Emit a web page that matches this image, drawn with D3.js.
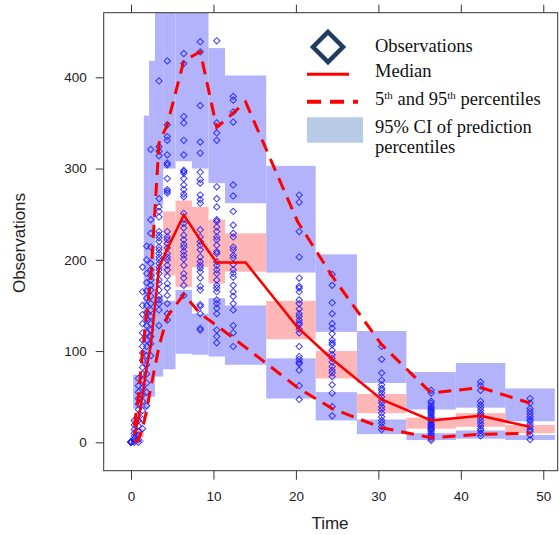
<!DOCTYPE html>
<html><head><meta charset="utf-8">
<script src="https://cdn.jsdelivr.net/npm/d3@7"></script>
<style>body{margin:0;background:#fff}</style>
</head><body><svg id="c" width="559" height="535"></svg>
<script>
// ---------- data ----------
const binEdges = [0.26, 1.55, 2.2, 2.9, 3.9, 5.4, 7.4, 9.4, 11.4, 16.4, 22.4, 27.4, 33.4, 39.4, 45.4, 51.4];
const p95Hi = [74, 358, 418, 500, 500, 500, 500, 432, 402, 303, 206, 122, 77, 87, 59];
const p95Lo = [37, 140, 160, 260, 300, 308, 300, 284, 262, 186, 121, 65, 36, 38, 23];
const medHi = [15, 100, 130, 160, 253, 265, 258, 244, 229, 155, 100, 53, 27, 32, 19];
const medLo = [5, 70, 95, 130, 183, 170, 192, 174, 187, 113, 70, 32, 15, 17, 10];
const p5Hi  = [3, 150, 170, 160, 155, 167, 141, 158, 150, 92, 55, 25, 10, 13, 8];
const p5Lo  = [0, 37, 50, 72, 80, 97, 96, 94, 85, 48, 24, 9, 2.5, 4, 2.5];

const lineTimes = [0.4, 0.9, 1.4, 1.9, 2.4, 3.4, 4.4, 6.4, 8.4, 10.4, 13.9, 20.2, 24.4, 30.4, 36.4, 42.4, 48.4];
const medLine = [8, 25, 52, 82, 106, 192, 212, 249, 222, 197, 197, 126, 91, 47, 24, 29, 17];
const p95Line = [18, 50, 100, 140, 180, 328, 348, 418, 428, 345, 373, 242, 182, 107, 54, 60, 43];
const p5Line  = [0, 3, 15, 35, 60, 105, 138, 162, 141, 128, 104, 60, 37, 16, 5, 8.8, 10];

const obsTimes = [0, 0.4, 0.9, 1.4, 1.9, 2.4, 3.4, 4.4, 6.4, 8.4, 10.4, 12.4, 20.4, 24.4, 30.4, 36.4, 42.4, 48.4];
const obsValues = [
  [0, 0, 0, 1, 0],
  [0, 2, 4, 7, 10, 14, 19, 24],
  [0, 3, 8, 12, 18, 24, 30, 36, 42, 48, 55, 62, 70],
  [15, 25, 35, 45, 52, 60, 68, 75, 82, 90, 98, 105, 112, 120, 130, 140, 150, 165, 192],
  [40, 55, 65, 75, 85, 95, 105, 112, 120, 128, 135, 142, 150, 158, 166, 175, 185, 200, 215],
  [95, 108, 116, 123, 130, 138, 145, 152, 160, 167, 172, 178, 183, 189, 196, 214, 229, 244, 321],
  [396, 324, 319, 314, 267, 258, 253, 247, 231, 227, 224, 220, 214, 211, 207, 203, 200, 196, 192, 189, 185, 178, 174, 167, 160, 156, 152, 145, 128],
  [418, 348, 335, 331, 315, 306, 304, 289, 277, 275, 273, 231, 225, 222, 218, 213, 207, 203, 200, 194, 189, 182, 174, 169, 161, 152, 141, 134],
  [426, 415, 357, 350, 331, 315, 298, 295, 297, 289, 282, 277, 272, 269, 251, 244, 240, 235, 227, 222, 217, 214, 209, 205, 201, 194, 185, 180, 172, 161],
  [439, 428, 369, 329, 317, 296, 288, 284, 271, 266, 262, 233, 225, 220, 216, 211, 203, 198, 194, 191, 187, 180, 171, 167, 151, 149, 141, 125, 123],
  [440, 350, 339, 331, 280, 267, 258, 244, 242, 236, 231, 225, 222, 216, 209, 207, 198, 194, 189, 185, 178, 172, 169, 165, 156, 152, 147, 141, 123, 116, 109],
  [379, 375, 362, 351, 282, 270, 253, 238, 229, 225, 214, 211, 205, 202, 195, 189, 185, 181, 172, 165, 160, 152, 145, 128, 120, 105],
  [271, 263, 231, 203, 180, 171, 169, 165, 156, 152, 146, 141, 138, 134, 131, 129, 124, 120, 105, 94, 91, 88, 86, 79, 62, 47],
  [184, 172, 153, 141, 130, 125, 119, 112, 109, 107, 101, 96, 92, 88, 83, 79, 76, 72, 63, 54, 39, 29],
  [105, 91, 76, 68, 63, 59, 57, 54, 50, 46, 43, 39, 36, 32, 28, 24, 21, 17, 14],
  [57, 54, 45, 43, 40, 38, 36, 35, 33, 32, 30, 28, 27, 25, 24, 22, 20, 19, 18, 16, 15, 14, 12, 10, 8, 6, 4, 2],
  [66, 62, 57, 45, 41, 38, 35, 32, 30, 27, 24, 21, 18, 15, 13, 10, 7],
  [48, 43, 37, 34, 31, 28, 25, 23, 20, 17, 14, 12, 8, 3]
];

const xTicks = [0, 10, 20, 30, 40, 50];
const yTicks = [0, 100, 200, 300, 400];
const legendLabels = ["Observations", "Median", "5th and 95th percentiles", "95% CI of prediction", "percentiles"];

// ---------- chart ----------
const svg = d3.select("#c");
const L = 103.7, R = 557.7, T = 12.7, B = 470.7;
const x = d3.scaleLinear().domain([-3.31, 51.75]).range([L, R]);
const y = d3.scaleLinear().domain([-31.1, 470.8]).range([B, T]);

svg.append("defs").append("clipPath").attr("id", "clip")
  .append("rect").attr("x", L).attr("y", T).attr("width", R - L).attr("height", B - T);
const plot = svg.append("g").attr("clip-path", "url(#clip)");

const bins = d3.range(binEdges.length - 1).map(i => ({
  t0: binEdges[i], t1: binEdges[i + 1],
  bands: [[medLo[i], medHi[i], "#ffb6b6"], [p95Lo[i], p95Hi[i], "#b3b3fb"], [p5Lo[i], p5Hi[i], "#b3b3fb"]]
}));
bins.forEach(b => {
  b.bands.forEach(([lo, hi, col]) => {
    plot.append("rect")
      .attr("x", x(b.t0)).attr("width", x(b.t1) - x(b.t0))
      .attr("y", y(hi)).attr("height", y(lo) - y(hi))
      .attr("fill", col);
  });
});

const pts = [];
obsTimes.forEach((t, i) => obsValues[i].forEach(v => pts.push([t, v])));
const sym = d3.symbol().type(d3.symbolSquare).size(20);
plot.selectAll("path.obs").data(pts).enter().append("path")
  .attr("class", "obs")
  .attr("d", sym)
  .attr("transform", d => `translate(${x(d[0])},${y(d[1])}) rotate(45)`)
  .attr("fill", "none").attr("stroke", "#1a1aff").attr("stroke-width", 1).attr("stroke-opacity", 0.85);

const line = d3.line().x(d => x(d[0])).y(d => y(d[1]));
plot.append("path").datum(lineTimes.map((t, i) => [t, medLine[i]]))
  .attr("d", line).attr("fill", "none").attr("stroke", "#ff0000").attr("stroke-width", 2.5);
[p95Line, p5Line].forEach(arr => {
  plot.append("path").datum(lineTimes.map((t, i) => [t, arr[i]]))
    .attr("d", line).attr("fill", "none").attr("stroke", "#ff0000")
    .attr("stroke-width", 3).attr("stroke-dasharray", "13,8");
});

// frame
svg.append("rect").attr("x", L).attr("y", T).attr("width", R - L).attr("height", B - T)
  .attr("fill", "none").attr("stroke", "#333").attr("stroke-width", 1);

const axFont = "'Liberation Sans', Arial, sans-serif";
const gl = svg.append("g").attr("transform", `translate(${L},0)`)
  .call(d3.axisLeft(y).tickValues(yTicks).tickSize(8).tickPadding(9));
const gb = svg.append("g").attr("transform", `translate(0,${B})`)
  .call(d3.axisBottom(x).tickValues(xTicks).tickSize(9).tickPadding(12));
const gt = svg.append("g").attr("transform", `translate(0,${T})`)
  .call(d3.axisTop(x).tickValues(xTicks).tickSize(8).tickFormat(""));
[gl, gb, gt].forEach(g => {
  g.select(".domain").remove();
  g.selectAll("line").attr("stroke", "#333");
  g.selectAll("text").attr("font-family", axFont).attr("font-size", "13.5px").attr("fill", "#222");
});

svg.append("text").attr("x", 330).attr("y", 529).attr("text-anchor", "middle")
  .attr("font-family", axFont).attr("font-size", "17px").attr("fill", "#222").text("Time");
svg.append("text").attr("transform", "translate(25,243) rotate(-90)").attr("text-anchor", "middle")
  .attr("font-family", axFont).attr("font-size", "17px").attr("fill", "#222").text("Observations");

// legend
const lg = svg.append("g");
const serif = "'Liberation Serif', 'Times New Roman', serif";
lg.append("path").attr("d", "M328,32 L343,47 L328,62 L313,47 Z")
  .attr("fill", "none").attr("stroke", "#1f3a63").attr("stroke-width", 4.5);
lg.append("line").attr("x1", 307).attr("x2", 349).attr("y1", 74.3).attr("y2", 74.3)
  .attr("stroke", "#ff0000").attr("stroke-width", 3);
lg.append("line").attr("x1", 307).attr("x2", 358).attr("y1", 101.7).attr("y2", 101.7)
  .attr("stroke", "#ff0000").attr("stroke-width", 4).attr("stroke-dasharray", "14,9");
lg.append("rect").attr("x", 307).attr("y", 117.3).attr("width", 56).attr("height", 25.4).attr("fill", "#b7cbe6");
const tx = 375;
const baselines = [52.3, 76.7, 105, 132.7, 152.7];
lg.append("text").attr("x", tx).attr("y", baselines[0]).text(legendLabels[0]);
lg.append("text").attr("x", tx).attr("y", baselines[1]).text(legendLabels[1]);
const t3 = lg.append("text").attr("x", tx).attr("y", baselines[2]);
t3.append("tspan").text("5");
t3.append("tspan").attr("dy", -6).attr("font-size", "11px").text("th");
t3.append("tspan").attr("dy", 6).text(" and 95");
t3.append("tspan").attr("dy", -6).attr("font-size", "11px").text("th");
t3.append("tspan").attr("dy", 6).text(" percentiles");
lg.append("text").attr("x", tx).attr("y", baselines[3]).text(legendLabels[3]);
lg.append("text").attr("x", tx).attr("y", baselines[4]).text(legendLabels[4]);
lg.selectAll("text").attr("font-family", serif).attr("font-size", "18.5px").attr("fill", "#111");
</script></body></html>
